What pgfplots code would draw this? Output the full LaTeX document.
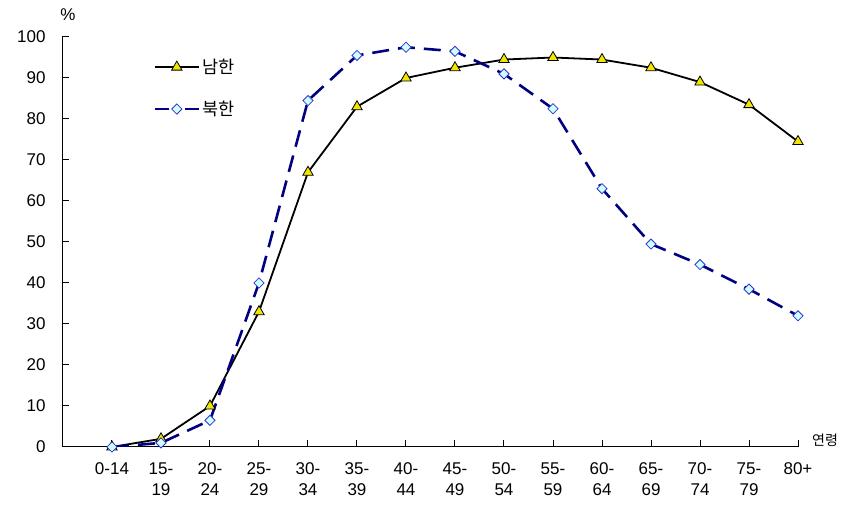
\documentclass[border=0pt]{standalone}
\usepackage{fontspec}
\setmainfont{Liberation Sans}
\newfontfamily\kr{Noto Sans CJK KR}
\usepackage{pgfplots}
\pgfplotsset{compat=1.18}
\definecolor{navyline}{RGB}{0,0,128}
\definecolor{markyel}{RGB}{240,230,0}
\definecolor{markcyan}{RGB}{204,255,255}
\definecolor{markblue}{RGB}{51,51,204}
\begin{document}
\begin{tikzpicture}[x=1pt,y=1pt]
\useasboundingbox (0,0) rectangle (843,511);
\begin{axis}[
  at={(62pt,64pt)}, anchor=south west,
  scale only axis, width=736pt, height=410pt,
  xmin=-1.02, xmax=14, ymin=0, ymax=100,
  axis x line=bottom, axis y line=left,
  axis line style={-, line width=1pt, black},
  tick align=inside, major tick length=7pt,
  tick style={black, line width=1pt},
  xtick={0,...,14}, ytick={0,10,...,100},
  xticklabels={0-14,{15-\\19},{20-\\24},{25-\\29},{30-\\34},{35-\\39},{40-\\44},{45-\\49},{50-\\54},{55-\\59},{60-\\64},{65-\\69},{70-\\74},{75-\\79},80+},
  xticklabel style={align=center, font=\fontsize{17}{21}\selectfont, anchor=north, yshift=-12pt},
  yticklabel style={font=\fontsize{17}{21}\selectfont, xshift=-13pt},
  /pgf/number format/assume math mode=true,
  legend style={at={(0.12,0.927)}, anchor=north west, draw=none, fill=none,
    font=\kr\fontsize{17.5}{21}\selectfont, row sep=22pt, nodes={inner xsep=2pt}, yshift=12pt},
  legend cell align=left,
  legend image code/.code={\draw[mark repeat=2,mark phase=2] plot coordinates {(0pt,0pt)(22pt,0pt)(44pt,0pt)};},
]
\addplot[black, line width=1.8pt, sharp plot, mark=triangle*, mark size=6pt,
  mark options={solid, fill=markyel, draw=black, line width=0.8pt}]
  coordinates {(0,0)(1,2)(2,10)(3,33)(4,67)(5,83)(6,90)(7,92.5)(8,94.5)(9,95)(10,94.5)(11,92.5)(12,89)(13,83.5)(14,74.5)};
\addlegendentry{남한}
\addplot[navyline, line width=2.6pt, sharp plot, dash pattern=on 17pt off 9pt, mark=square*, mark size=3.6pt,
  mark options={solid, rotate=45, fill=markcyan, draw=markblue, line width=0.8pt},
  legend image post style={dash pattern=on 14pt off 16pt}]
  coordinates {(0,0)(1,1)(2,6.5)(3,40)(4,84.5)(5,95.5)(6,97.5)(7,96.5)(8,91)(9,82.5)(10,63)(11,49.5)(12,44.5)(13,38.5)(14,32)};
\addlegendentry{북한}
\end{axis}
\node at (68,496) {\fontsize{17}{21}\selectfont\%};
\node at (825,71) {\kr\fontsize{14}{16}\selectfont 연령};
\end{tikzpicture}
\end{document}
